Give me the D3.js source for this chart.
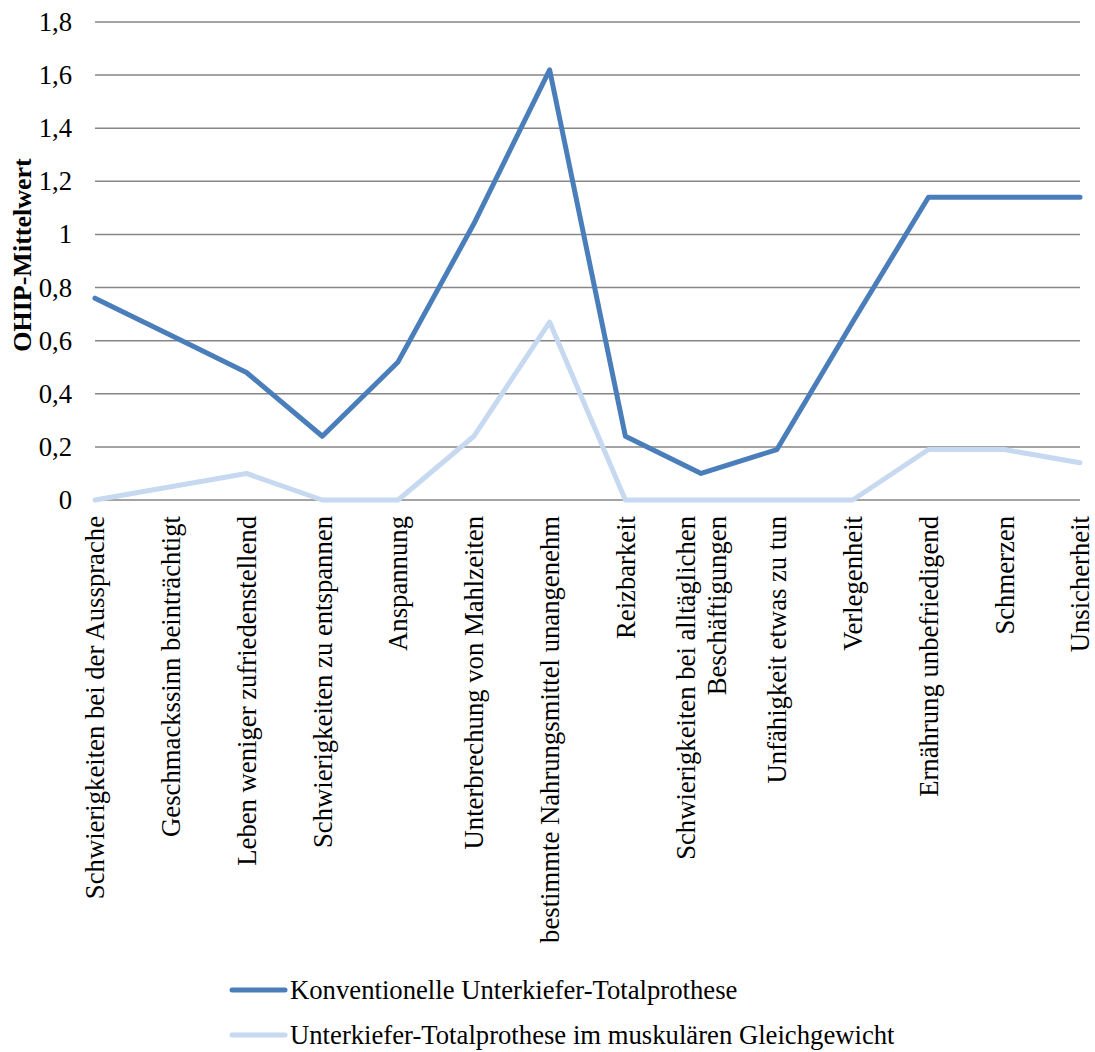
<!DOCTYPE html>
<html>
<head>
<meta charset="utf-8">
<script src="https://cdn.jsdelivr.net/npm/d3@7"></script>
<style>
  html, body { margin: 0; padding: 0; background: #fff; }
  svg { display: block; }
  svg text { font-family: "Liberation Serif", "Times New Roman", serif; fill: #000; }
</style>
</head>
<body>
<svg id="chart" width="1095" height="1052"></svg>
<script>
// OHIP item categories (x axis); "\n" splits a label over two lines
const categories = [
  "Schwierigkeiten bei der Aussprache",
  "Geschmackssinn beinträchtigt",
  "Leben weniger zufriedenstellend",
  "Schwierigkeiten zu entspannen",
  "Anspannung",
  "Unterbrechung von Mahlzeiten",
  "bestimmte Nahrungsmittel unangenehm",
  "Reizbarkeit",
  "Schwierigkeiten bei alltäglichen\nBeschäftigungen",
  "Unfähigkeit etwas zu tun",
  "Verlegenheit",
  "Ernährung unbefriedigend",
  "Schmerzen",
  "Unsicherheit"
];

// Mean OHIP scores per item
const konventionell = [0.76, 0.62, 0.48, 0.24, 0.52, 1.04, 1.62, 0.24, 0.10, 0.19, 0.67, 1.14, 1.14, 1.14];
const gleichgewicht = [0.00, 0.05, 0.10, 0.00, 0.00, 0.24, 0.67, 0.00, 0.00, 0.00, 0.00, 0.19, 0.19, 0.14];

const seriesNames = [
  "Konventionelle Unterkiefer-Totalprothese",
  "Unterkiefer-Totalprothese im muskulären Gleichgewicht"
];
const seriesColors = ["#4a7ebb", "#c6d9f0"];

const yTicks = [0, 0.2, 0.4, 0.6, 0.8, 1, 1.2, 1.4, 1.6, 1.8];
const yTitle = "OHIP-Mittelwert";

const svg = d3.select("#chart");

const plot = { left: 95, right: 1080, top: 22, bottom: 500 };
const fontSize = 26.7;

const x = d3.scalePoint()
  .domain(categories)
  .range([plot.left, plot.right])
  .padding(0);

const y = d3.scaleLinear()
  .domain([0, 1.8])
  .range([plot.bottom, plot.top]);

const fmt = v => String(v).replace(".", ",");

// Horizontal gridlines
svg.append("g")
  .selectAll("line")
  .data(yTicks)
  .join("line")
  .attr("x1", plot.left)
  .attr("x2", plot.right)
  .attr("y1", d => y(d))
  .attr("y2", d => y(d))
  .attr("stroke", "#868686")
  .attr("stroke-width", 1.5);

// Y axis tick labels
const yAxis = d3.axisLeft(y).tickValues(yTicks).tickFormat(fmt).tickSize(0).tickPadding(0);
const gy = svg.append("g")
  .attr("transform", `translate(${plot.left - 23},0)`)
  .call(yAxis);
gy.attr("font-family", null).attr("font-size", null);
gy.select(".domain").remove();
gy.selectAll("text")
  .attr("font-size", fontSize)
  .attr("fill", "#000");

// Y axis title
svg.append("text")
  .attr("transform", `translate(31, ${(plot.top + plot.bottom) / 2 - 6}) rotate(-90)`)
  .attr("text-anchor", "middle")
  .attr("font-size", 26)
  .attr("font-weight", "bold")
  .text(yTitle);

// Category labels, rotated
const xl = svg.append("g")
  .selectAll("text")
  .data(categories)
  .join("text")
  .attr("transform", d => `translate(${x(d)}, 516) rotate(-90)`)
  .attr("text-anchor", "end")
  .attr("font-size", fontSize);

xl.each(function (d) {
  const lines = d.split("\n");
  const t = d3.select(this);
  const first = 0.35 - (lines.length - 1) * 0.59;
  lines.forEach((ln, i) => {
    t.append("tspan")
      .attr("x", 0)
      .attr("dy", (i === 0 ? first : 1.18) + "em")
      .text(ln);
  });
});

// Lines (lighter series underneath)
const line = d3.line()
  .x((d, i) => x(categories[i]))
  .y(d => y(d));

[[gleichgewicht, 1], [konventionell, 0]].forEach(([vals, idx]) => {
  svg.append("path")
    .datum(vals)
    .attr("d", line)
    .attr("fill", "none")
    .attr("stroke", seriesColors[idx])
    .attr("stroke-width", 5)
    .attr("stroke-linejoin", "round")
    .attr("stroke-linecap", "round");
});

// Legend
const legend = svg.append("g")
  .selectAll("g")
  .data(seriesNames)
  .join("g")
  .attr("transform", (d, i) => `translate(0, ${990 + i * 45})`);

legend.append("line")
  .attr("x1", 232)
  .attr("x2", 285)
  .attr("stroke", (d, i) => seriesColors[i])
  .attr("stroke-width", 5)
  .attr("stroke-linecap", "round");

legend.append("text")
  .attr("x", 290)
  .attr("dy", "0.35em")
  .attr("font-size", fontSize)
  .text(d => d);
</script>
</body>
</html>
